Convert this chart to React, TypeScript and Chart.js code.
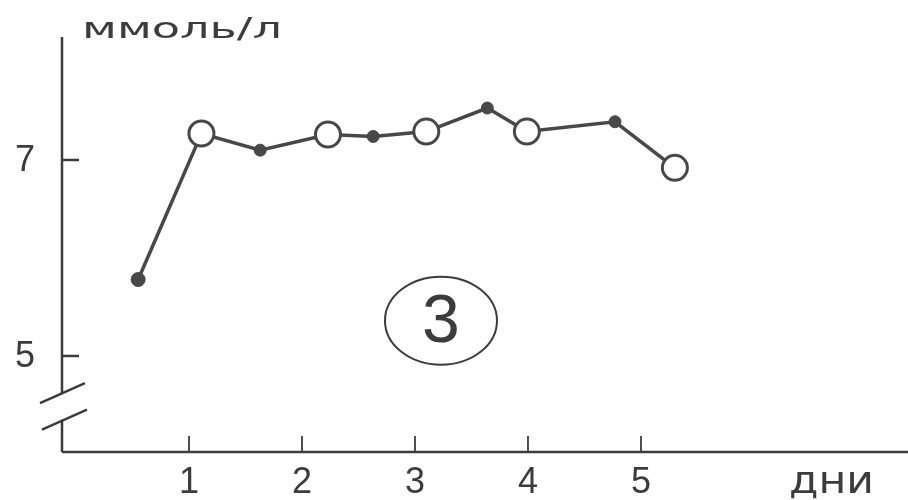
import React, { useEffect, useRef } from "react";
import { Chart, registerables } from "chart.js";

Chart.register(...registerables);

// ---- data ----
const days = [0.55, 1.11, 1.63, 2.23, 2.63, 3.1, 3.64, 3.99, 4.77, 5.3];
const glucose = [5.78, 7.27, 7.1, 7.26, 7.24, 7.29, 7.53, 7.29, 7.39, 6.92];
const markerKinds = ["filled", "open", "filled", "open", "filled", "open", "filled", "open", "filled", "open"];
const xTicks = [1, 2, 3, 4, 5];
const yTicks = [5, 7];
const yUnit = "ммоль/л";
const xUnit = "дни";
const panelLabel = "3";

const INK = "#3c3c3c";
const LINE = "#484848";

function stretchedText(ctx: any, text: string, x: number, y: number, targetWidth: number) {
  const w = ctx.measureText(text).width;
  ctx.save();
  ctx.translate(x, y);
  ctx.scale(targetWidth / w, 1);
  ctx.textAlign = "left";
  ctx.fillText(text, 0, 0);
  ctx.restore();
}

const axesPlugin = {
  id: "handDrawnAxes",
  afterDatasetsDraw(chart: any) {
    const { ctx, chartArea, scales } = chart;
    const xs = scales.x;
    const ys = scales.y;
    const x0 = chartArea.left;
    const yBottom = chartArea.bottom;
    const yTop = chartArea.top;
    ctx.save();
    ctx.strokeStyle = INK;
    ctx.fillStyle = INK;
    ctx.lineCap = "butt";

    // y axis with break
    const brk1 = ys.getPixelForValue(4.62);
    const brk2 = ys.getPixelForValue(4.35);
    ctx.lineWidth = 2.5;
    ctx.beginPath();
    ctx.moveTo(x0, yTop);
    ctx.lineTo(x0, brk1);
    ctx.moveTo(x0, brk2);
    ctx.lineTo(x0, yBottom);
    // x axis
    ctx.moveTo(x0, yBottom);
    ctx.lineTo(chartArea.right, yBottom);
    ctx.stroke();

    // break marks
    ctx.lineWidth = 2.5;
    ctx.beginPath();
    ctx.moveTo(x0 - 22, brk1 + 10);
    ctx.lineTo(x0 + 23, brk1 - 10);
    ctx.moveTo(x0 - 20, brk2 + 10);
    ctx.lineTo(x0 + 25, brk2 - 10);
    ctx.stroke();

    // y ticks (inside) + labels
    ctx.lineWidth = 2.5;
    ctx.font = '36px "Liberation Sans", Arial, sans-serif';
    ctx.textAlign = "right";
    ctx.textBaseline = "middle";
    yTicks.forEach((v) => {
      const py = ys.getPixelForValue(v);
      ctx.beginPath();
      ctx.moveTo(x0, py);
      ctx.lineTo(x0 + 17, py);
      ctx.stroke();
      ctx.fillText(String(v), 35, py + 1);
    });

    // x ticks (inside) + labels
    ctx.lineWidth = 1.8;
    ctx.textAlign = "center";
    ctx.textBaseline = "alphabetic";
    xTicks.forEach((v) => {
      const px = xs.getPixelForValue(v);
      ctx.beginPath();
      ctx.moveTo(px, yBottom);
      ctx.lineTo(px, yBottom - 16);
      ctx.stroke();
      ctx.fillText(String(v), px, 493);
    });

    // axis units
    ctx.font = '29px "DejaVu Sans", sans-serif';
    stretchedText(ctx, yUnit, 82, 38, 200);
    ctx.font = '37px "DejaVu Sans", sans-serif';
    stretchedText(ctx, xUnit, 789, 493, 85);

    // circled panel label
    const cx = xs.getPixelForValue(3.23);
    const cy = ys.getPixelForValue(5.36);
    ctx.lineWidth = 2;
    ctx.beginPath();
    ctx.ellipse(cx, cy, 56, 44, 0, 0, Math.PI * 2);
    ctx.stroke();
    ctx.font = '68px "Liberation Sans", Arial, sans-serif';
    ctx.textAlign = "center";
    ctx.textBaseline = "middle";
    ctx.fillText(panelLabel, cx, cy + 3);

    ctx.restore();
  },
};

export default function App() {
  const ref = useRef<HTMLCanvasElement | null>(null);

  useEffect(() => {
    document.body.style.margin = "0";
    const canvas = ref.current;
    if (!canvas) return;
    const radii = markerKinds.map((k, i) => (k === "open" ? 12.5 : i === 0 ? 7 : 6));
    const chart = new Chart(canvas, {
      type: "line",
      data: {
        datasets: [
          {
            data: days.map((d, i) => ({ x: d, y: glucose[i] })),
            borderColor: LINE,
            borderWidth: 3.5,
            tension: 0,
            clip: false,
            pointRadius: radii,
            pointHoverRadius: radii,
            pointBackgroundColor: markerKinds.map((k) => (k === "open" ? "#ffffff" : LINE)),
            pointBorderColor: LINE,
            pointBorderWidth: markerKinds.map((k) => (k === "open" ? 3 : 1)),
          },
        ],
      },
      options: {
        animation: false,
        responsive: false,
        maintainAspectRatio: false,
        events: [],
        layout: { autoPadding: false, padding: { left: 62, top: 37, right: 0, bottom: 48 } },
        plugins: { legend: { display: false }, tooltip: { enabled: false } },
        scales: {
          x: { type: "linear", min: -0.124, max: 7.363, display: false },
          y: { type: "linear", min: 4.02, max: 8.255, display: false },
        },
      },
      plugins: [axesPlugin],
    });
    return () => chart.destroy();
  }, []);

  return (
    <div style={{ position: "absolute", left: 0, top: 0, width: 908, height: 500, background: "#fff" }}>
      <canvas ref={ref} width={908} height={500} style={{ width: 908, height: 500, display: "block" }} />
    </div>
  );
}
